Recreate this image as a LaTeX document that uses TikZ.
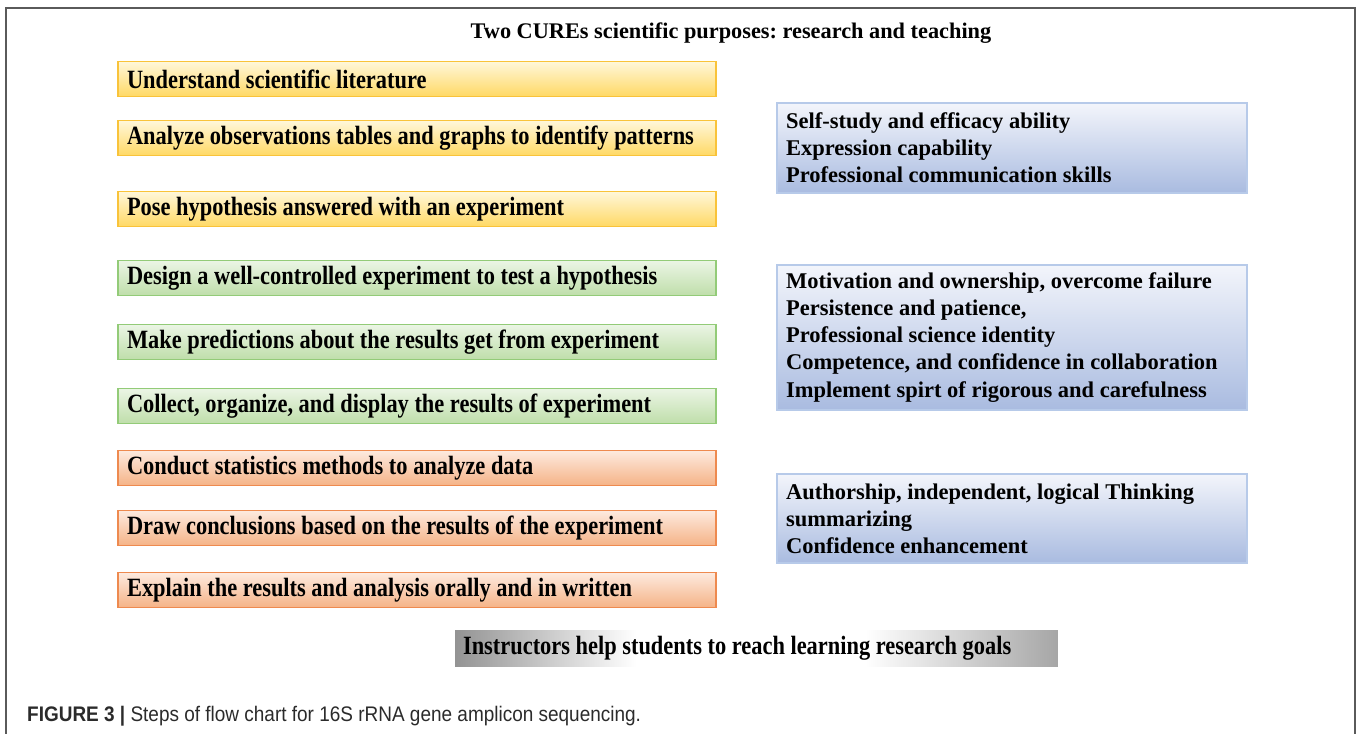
\documentclass[tikz,border=0pt]{standalone}
\usepackage{fontspec}
\setmainfont{Liberation Serif}
\newfontfamily\narrowserif[FakeStretch=0.85]{Liberation Serif}
\newfontfamily\captionsans[FakeStretch=0.9]{Liberation Sans}
\usepackage{xcolor}
\frenchspacing
\definecolor{yelEdge}{HTML}{F9C33A}
\definecolor{yelTop}{HTML}{FFF7DA}
\definecolor{yelBot}{HTML}{FFD965}
\definecolor{grnEdge}{HTML}{93CB78}
\definecolor{grnTop}{HTML}{EBF5E5}
\definecolor{grnBot}{HTML}{BFDEAA}
\definecolor{ornEdge}{HTML}{EE8A4F}
\definecolor{ornTop}{HTML}{FDEADF}
\definecolor{ornBot}{HTML}{F5B387}
\definecolor{blueEdge}{HTML}{B7CAE9}
\definecolor{blueTop}{HTML}{F3F5FB}
\definecolor{blueBot}{HTML}{A9BBE0}
\definecolor{barGrayL}{HTML}{939393}
\definecolor{barGrayR}{HTML}{A6A6A6}
\definecolor{frameGray}{HTML}{5A5A5A}
\definecolor{captionInk}{HTML}{2B2B2B}
% grey bar: dark ends, white middle
\pgfdeclarehorizontalshading{silverbar}{100bp}{color(0bp)=(barGrayL); color(25bp)=(barGrayL);
  color(40bp)=(white); color(59bp)=(white); color(75bp)=(barGrayR); color(100bp)=(barGrayR)}
\newcommand{\stepfont}{\narrowserif\bfseries\fontsize{15}{18}\selectfont}

\begin{document}
\begin{tikzpicture}[x=0.02cm, y=-0.02cm,
      % keep the font's own word space in ragged boxes
      every node/.append style={execute at begin node={\spaceskip=0pt\xspaceskip=0pt\relax}},
      stepbox/.style={draw=#1Edge, top color=#1Top, bottom color=#1Bot, line width=0.8pt,
            minimum width=11.96cm, minimum height=0.7cm, inner xsep=0.18cm, inner ysep=0pt,
            text width=11.6cm, align=left, font=\stepfont},
      skillbox/.style={draw=blueEdge, top color=blueTop, bottom color=blueBot, line width=0.8pt,
            minimum width=9.4cm, inner xsep=0.18cm, inner ysep=0pt, text width=9.04cm, align=left,
            font=\bfseries\fontsize{12.8}{15.4}\selectfont}]
    \useasboundingbox (0,0) rectangle (1357,734);
    \draw[frameGray, line width=1.2pt] (6,734) -- (6,8) -- (1355,8) -- (1355,734);

    \node[font=\bfseries\fontsize{12.7}{15}\selectfont] (title) at (731,33)
          {Two CUREs scientific purposes: research and teaching};

    % left column of steps
    \foreach \y/\c/\t [count=\i] in {
          79/yel/{Understand scientific literature},
          138/yel/{Analyze observations tables and graphs to identify patterns},
          209/yel/{Pose hypothesis answered with an experiment},
          278/grn/{Design a well-controlled experiment to test a hypothesis},
          342/grn/{Make predictions about the results get from experiment},
          406/grn/{Collect, organize, and display the results of experiment},
          468/orn/{Conduct statistics methods to analyze data},
          528/orn/{Draw conclusions based on the results of the experiment},
          590/orn/{Explain the results and analysis orally and in written}} {
      \node[stepbox=\c] (step\i) at (417,\y) {\t};
    }

    % right column of skills
    \node[skillbox, minimum height=1.8cm] (skillA) at (1012,148)
          {Self-study and efficacy ability\\Expression capability\\Professional communication skills};
    \node[skillbox, minimum height=2.9cm] (skillB) at (1012,337.5)
          {Motivation and ownership, overcome failure\\Persistence and patience,\\Professional science identity\\
           Competence, and confidence in collaboration\\Implement spirt of rigorous and carefulness};
    \node[skillbox, minimum height=1.78cm] (skillC) at (1012,518.5)
          {Authorship, independent, logical Thinking\\summarizing\\Confidence enhancement};

    \node[shading=silverbar, minimum width=12.06cm, minimum height=0.72cm, inner xsep=0.16cm,
          inner ysep=0pt, text width=11.74cm, align=left, font=\stepfont] (goal) at (756.5,648)
          {Instructors help students to reach learning research goals};

    \node[anchor=west, text=captionInk, font=\captionsans\fontsize{12}{14}\selectfont] (caption) at (21,716)
          {\textbf{FIGURE 3 |} Steps of flow chart for 16S rRNA gene amplicon sequencing.};
  \end{tikzpicture}
\end{document}
